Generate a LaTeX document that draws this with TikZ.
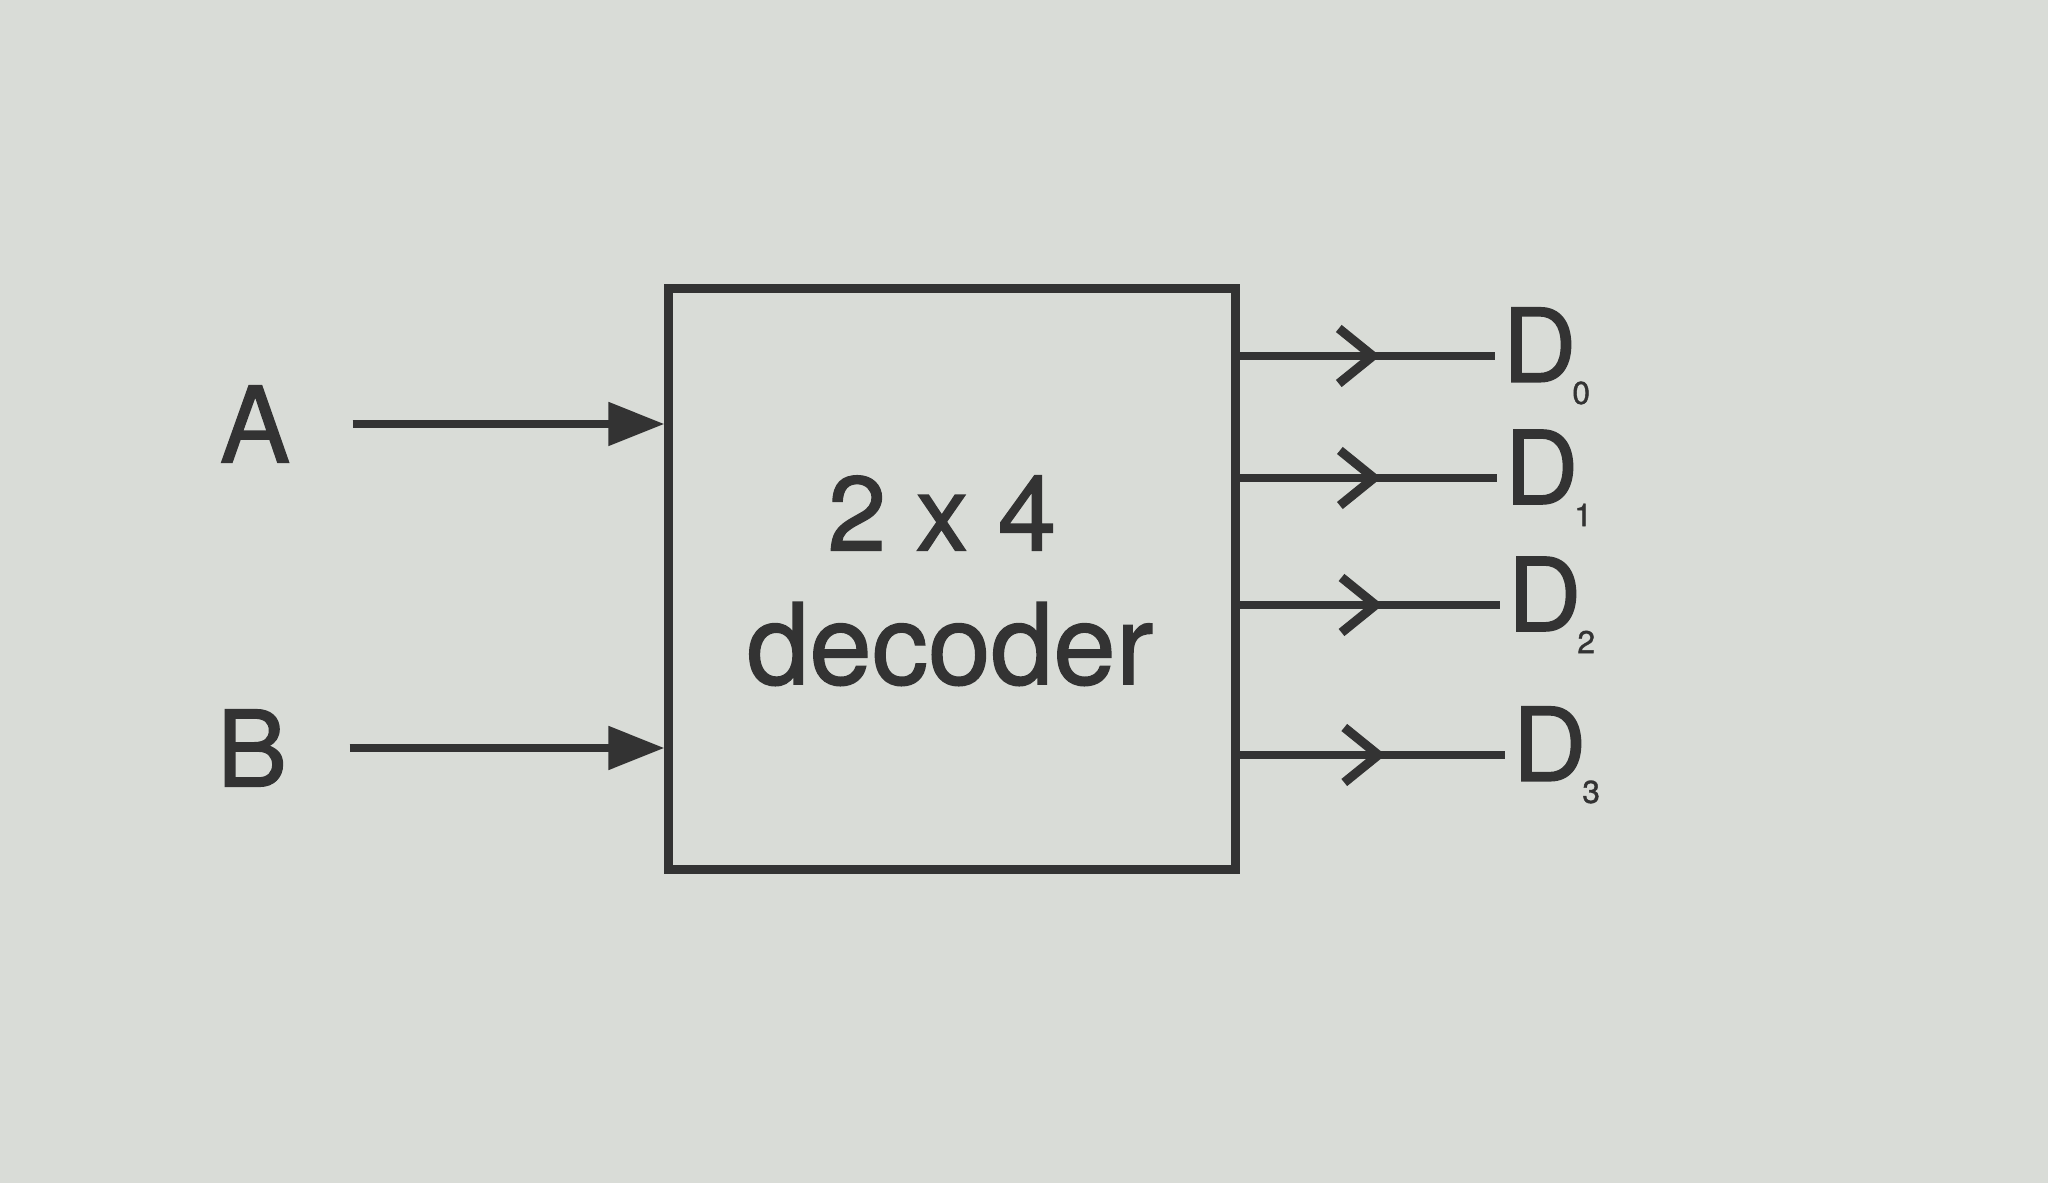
\documentclass[tikz,border=0pt]{standalone}
\usepackage{fontspec}
\setmainfont{TeX Gyre Heros}
\newfontfamily\inkfont[FakeBold=1.2]{TeX Gyre Heros}
\usetikzlibrary{arrows.meta,positioning,decorations.markings}
\definecolor{paper}{HTML}{D9DCD7}
\definecolor{ink}{HTML}{333333}
\newcommand{\Dout}[1]{D\hspace{-0.04cm}\raisebox{-0.22cm}{\fontsize{9}{9}\selectfont #1}}
\tikzset{
  lbl/.style={text=ink,font=\inkfont\fontsize{30}{34}\selectfont},
  outlbl/.style={text=ink,font=\inkfont\fontsize{29}{34}\selectfont,anchor=west,inner sep=2pt},
  inarrow/.style={-{Triangle[length=0.56cm,width=0.42cm]},line width=2.3pt,draw=ink,shorten <=0.5cm},
  outarrow/.style={line width=2.3pt,draw=ink,postaction={decorate},
    decoration={markings,mark=at position 0.55 with {\arrow[ink,line width=2.6pt]{Straight Barb[length=0.34cm,width=0.55cm]}}}}
}
\begin{document}
\begin{tikzpicture}[x=0.01cm,y=-0.01cm]
        \fill[paper] (0,0) rectangle (2048,1183);
        \useasboundingbox (0,0) rectangle (2048,1183);

        \node[draw=ink,line width=2.5pt,minimum width=5.66cm,minimum height=5.8cm] (dec) at (952,579) {};
        \node[lbl] (two) at (942,513) {2 x 4};
        \node[lbl,font=\inkfont\fontsize{32}{36}\selectfont] (name) at (950,644) {decoder};

        \node[lbl] (A) at (255,424) {A};
        \node[lbl] (B) at (252,748) {B};

        \node[outlbl] (D0) at (1495,356) {\Dout{0}};
        \node[outlbl] (D1) at (1497,478) {\Dout{1}};
        \node[outlbl] (D2) at (1500,605) {\Dout{2}};
        \node[outlbl] (D3) at (1505,755) {\Dout{3}};

        \draw[inarrow] (A) -- (A -| dec.west);
        \draw[inarrow] (B) -- (B -| dec.west);

        \draw[outarrow] (dec.east |- D0) -- (D0.west);
        \draw[outarrow] (dec.east |- D1) -- (D1.west);
        \draw[outarrow] (dec.east |- D2) -- (D2.west);
        \draw[outarrow] (dec.east |- D3) -- (D3.west);
      \end{tikzpicture}
\end{document}
